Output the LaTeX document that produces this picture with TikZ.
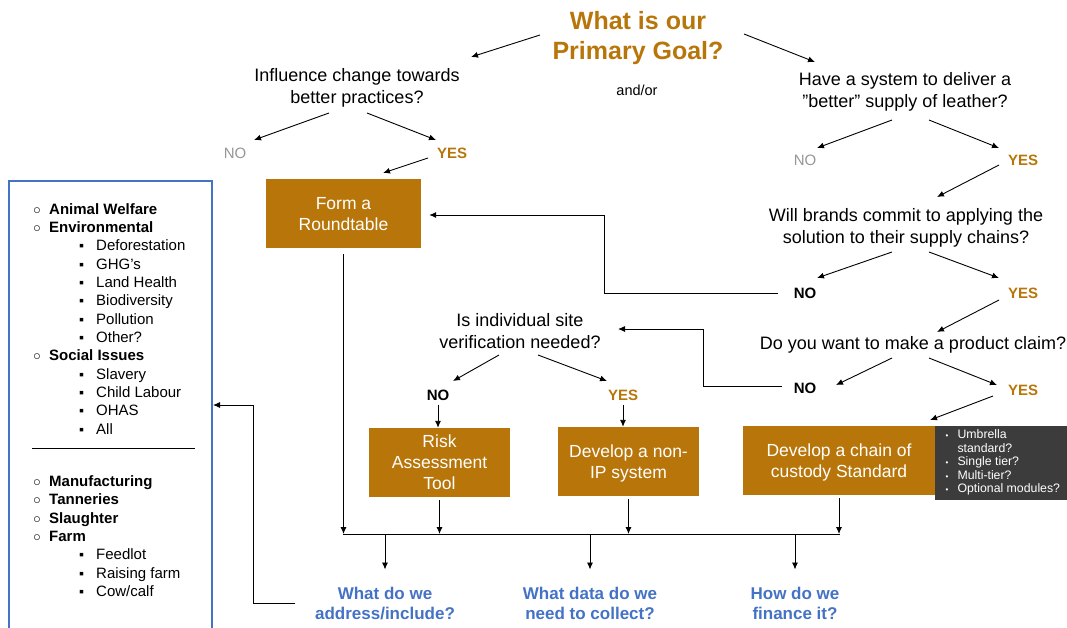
\documentclass[tikz,border=0pt]{standalone}
\usepackage{fontspec}
\setmainfont{Liberation Sans}
\usetikzlibrary{arrows.meta,calc}

\definecolor{gold}{RGB}{184,118,10}
\definecolor{askblue}{RGB}{68,114,196}
\definecolor{nogrey}{RGB}{150,150,150}
\definecolor{darkbox}{RGB}{60,60,60}
\newcommand{\ringmark}{\makebox[16pt][l]{\mdseries\fontsize{13}{13}\selectfont ○}}
\newcommand{\sqmark}{\makebox[17pt][l]{\fontsize{14}{14}\selectfont ▪}}
\newcommand{\dotmark}{{\fontsize{8}{8}\selectfont •}}

\begin{document}
\begin{tikzpicture}[x=1pt, y=-1pt, font=\fontsize{18}{22}\selectfont]
    \tikzset{
      ques/.style={align=center, inner sep=0pt},
      goalt/.style={align=center, inner sep=0pt, text=gold,
                    font=\fontsize{25}{30}\selectfont\bfseries},
      yes/.style={inner sep=0pt, text=gold, font=\fontsize{15}{18}\selectfont\bfseries},
      nog/.style={inner sep=0pt, text=nogrey, font=\fontsize{15}{18}\selectfont},
      nob/.style={inner sep=0pt, font=\fontsize{15}{18}\selectfont\bfseries},
      act/.style={fill=gold, text=white, align=center, inner sep=2pt, text depth=0pt,
                  font=\fontsize{17.5}{21}\selectfont},
      opts/.style={fill=darkbox, text=white, anchor=north west, align=left,
                   inner xsep=9pt, minimum width=135, minimum height=69,
                   font=\fontsize{12.3}{13.5}\selectfont},
      ask/.style={align=center, inner sep=0pt, text=askblue,
                  font=\fontsize{17}{19.5}\selectfont\bfseries},
      panel/.style={draw=askblue, line width=2pt, anchor=north west},
      grp/.style={anchor=west, inner sep=0pt, text height=11pt, text depth=3pt,
                  font=\fontsize{15}{18}\selectfont\bfseries},
      sub/.style={anchor=west, inner sep=0pt, text height=11pt, text depth=3pt,
                  font=\fontsize{15}{18}\selectfont},
      arr/.style={-{Latex[length=7pt,width=6pt]}, line width=0.9pt},
      bus/.style={line width=0.9pt},
    }
    \useasboundingbox (0,0) rectangle (1067,627);

    % questions
    \node[goalt] (goal) at (638,38) {What is our\\Primary Goal?};
    \node[ques] (infl) at (357,88) {Influence change towards\\better practices?};
    \node[ques, font=\fontsize{14.5}{17}\selectfont] (andor) at (637,90) {and/or};
    \node[ques] (sys) at (905,92) {Have a system to deliver a\\”better” supply of leather?};
    \node[ques] (brand) at (906,228) {Will brands commit to applying the\\solution to their supply chains?};
    \node[ques] (claim) at (913,345) {Do you want to make a product claim?};
    \node[ques] (site) at (520,331) {Is individual site\\verification needed?};

    % answers
    \node[nog] (no1) at (235,153) {NO};
    \node[yes] (yes1) at (452,153) {YES};
    \node[nog] (no2) at (805,160) {NO};
    \node[yes] (yes2) at (1023,160) {YES};
    \node[nob] (no3) at (805,293) {NO};
    \node[yes] (yes3) at (1023,293) {YES};
    \node[nob] (no4) at (805,388) {NO};
    \node[yes] (yes4) at (1023,390) {YES};
    \node[nob] (no5) at (438,395) {NO};
    \node[yes] (yes5) at (623,395) {YES};

    % outcomes
    \node[act, minimum width=155, minimum height=69] (round) at (343.5,213.5) {Form a\\Roundtable};
    \node[act, minimum width=141, minimum height=69] (risk) at (439.5,462.5) {Risk\\Assessment\\Tool};
    \node[act, minimum width=141, minimum height=69] (nonip) at (628.5,461.5) {Develop a non-\\IP system};
    \node[act, minimum width=192, minimum height=69] (chain) at (839,460.5) {Develop a chain of\\custody Standard};
    \node[opts] (types) at (chain.north east) {%
      \begin{tabular}{@{}l@{\hspace{9pt}}l@{}}
        \dotmark & Umbrella\\
                 & standard?\\
        \dotmark & Single tier?\\
        \dotmark & Multi-tier?\\
        \dotmark & Optional modules?
      \end{tabular}};

    % follow-up questions
    \node[ask] (addr) at (385,603.5) {What do we\\address/include?};
    \node[ask] (data) at (590,603.5) {What data do we\\need to collect?};
    \node[ask] (fin) at (795,603.5) {How do we\\finance it?};

    % scope panel
    \node[panel, minimum width=203, minimum height=470] (scope) at (8,180) {};
    \node[grp] (awel) at (33,210) {\ringmark Animal Welfare};
    \node[grp] (envi) at (33,228.3) {\ringmark Environmental};
    \node[sub] (defo) at (79,246.7) {\sqmark Deforestation};
    \node[sub] (ghg) at (79,265) {\sqmark GHG’s};
    \node[sub] (land) at (79,283.3) {\sqmark Land Health};
    \node[sub] (biod) at (79,301.7) {\sqmark Biodiversity};
    \node[sub] (poll) at (79,320) {\sqmark Pollution};
    \node[sub] (othr) at (79,338.3) {\sqmark Other?};
    \node[grp] (soci) at (33,356.7) {\ringmark Social Issues};
    \node[sub] (slav) at (79,375) {\sqmark Slavery};
    \node[sub] (chld) at (79,393.3) {\sqmark Child Labour};
    \node[sub] (ohas) at (79,411.7) {\sqmark OHAS};
    \node[sub] (alls) at (79,430) {\sqmark All};
    \coordinate (sepL) at (32,448);
    \coordinate (sepR) at (195,448);
    \draw[line width=0.9pt] (sepL) -- (sepR);
    \node[grp] (manu) at (33,482) {\ringmark Manufacturing};
    \node[grp] (tann) at (33,500.5) {\ringmark Tanneries};
    \node[grp] (slau) at (33,519) {\ringmark Slaughter};
    \node[grp] (farm) at (33,537) {\ringmark Farm};
    \node[sub] (feed) at (79,555.5) {\sqmark Feedlot};
    \node[sub] (rais) at (79,574) {\sqmark Raising farm};
    \node[sub] (cowc) at (79,592.5) {\sqmark Cow/calf};

    % decision arrows
    \draw[arr] ($(goal)+(-98,-3)$) -- ($(infl)+(114,-31)$);
    \draw[arr] ($(goal)+(106,-4)$) -- ($(sys)+(-90,-30)$);
    \draw[arr] ($(infl)+(-28,25)$) -- ($(no1)+(19,-13)$);
    \draw[arr] ($(infl)+(10,25)$) -- ($(yes1)+(-16,-13)$);
    \draw[arr] ($(yes1)+(-24,5)$) -- ($(round)+(39.5,-40.5)$);
    \draw[arr] ($(sys)+(-13,28)$) -- ($(no2)+(12,-12)$);
    \draw[arr] ($(sys)+(24,28)$) -- ($(yes2)+(-24,-12)$);
    \draw[arr] ($(yes2)+(-24,5)$) -- ($(brand)+(31,-31)$);
    \draw[arr] ($(brand)+(-14,24)$) -- ($(no3)+(12,-15)$);
    \draw[arr] ($(brand)+(23,24)$) -- ($(yes3)+(-24,-15)$);
    \draw[arr] ($(yes3)+(-24,7)$) -- ($(claim)+(24,-13)$);
    \draw[arr] ($(claim)+(-21,13)$) -- ($(no4)+(31,-3)$);
    \draw[arr] ($(claim)+(16,13)$) -- ($(yes4)+(-26,-5)$);
    \draw[arr] ($(yes4)+(-30,6)$) -- ($(chain)+(91,-40.5)$);
    \draw[arr] ($(site)+(-21,24)$) -- ($(no5)+(15,-14)$);
    \draw[arr] ($(site)+(18,24)$) -- ($(yes5)+(-16,-14)$);
    \draw[arr, shorten <=4pt] (no5.south) -- (no5.south |- risk.north);
    \draw[arr, shorten <=4pt] (yes5.south) -- (yes5.south |- nonip.north);

    % loops back
    \coordinate (fbA) at (604,215);
    \coordinate (fbB) at (703,329);
    \draw[arr] ($(no3)+(-27,0)$) -| (fbA) -- ([xshift=8pt]fbA -| round.east);
    \draw[arr] ($(no4)+(-23,-2)$) -| (fbB) -- ($(site)+(98,-2)$);

    % bus to follow-up questions
    \coordinate (busL) at (343,534);
    \coordinate (busR) at (840,534);
    \draw[bus] (busL) -- (busR);
    \draw[arr, shorten <=6pt] (round.south) -- (round.south |- busL);
    \draw[arr, shorten <=3pt] (risk.south) -- (risk.south |- busL);
    \draw[arr, shorten <=3pt] (nonip.south) -- (nonip.south |- busL);
    \draw[arr, shorten <=3pt] (chain.south) -- (chain.south |- busL);
    \draw[arr] (addr |- busL) -- ($(addr)+(0,-34)$);
    \draw[arr] (data |- busL) -- ($(data)+(0,-34)$);
    \draw[arr] (fin |- busL) -- ($(fin)+(0,-34)$);
    \coordinate (fbC) at (253,405);
    \draw[arr] ($(addr)+(-90,0)$) -| (fbC) -- (fbC -| scope.east);
  \end{tikzpicture}
\end{document}
